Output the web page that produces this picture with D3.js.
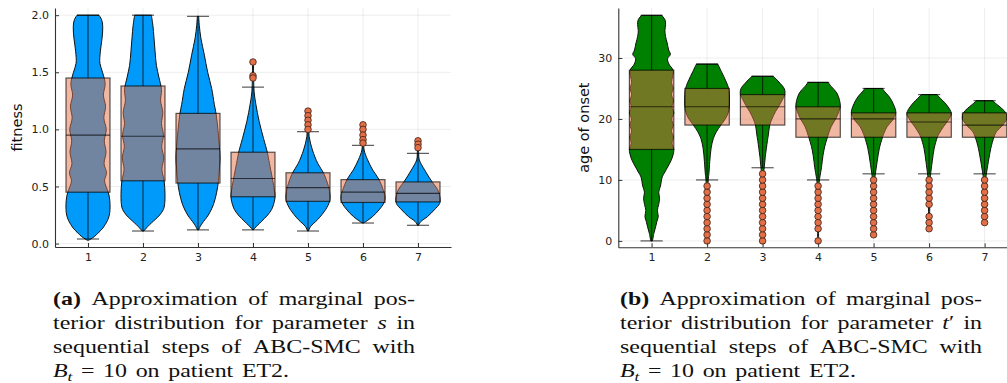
<!DOCTYPE html>
<html>
<head>
<meta charset="utf-8">
<script src="https://cdn.jsdelivr.net/npm/d3@7"></script>
<style>
  body { margin: 0; background: #fff; }
  svg { display: block; }
</style>
</head>
<body>
<svg id="fig" width="1007" height="383"></svg>
<script>
// ABC-SMC steps on the x axis of both panels
const steps = [1, 2, 3, 4, 5, 6, 7];
const stepTickLabels = ["1", "2", "3", "4", "5", "6", "7"];

// ---- parameter s (fitness) ----
const fitnessTicks = [0, 0.5, 1.0, 1.5, 2.0];
const fitnessTickLabels = ["0.0", "0.5", "1.0", "1.5", "2.0"];
const fitnessLower  = [0.04, 0.11, 0.12, 0.12, 0.11, 0.18, 0.16];
const fitnessQ1     = [0.45, 0.55, 0.53, 0.41, 0.37, 0.36, 0.365];
const fitnessMedian = [0.95, 0.94, 0.83, 0.57, 0.49, 0.45, 0.44];
const fitnessQ3     = [1.45, 1.38, 1.14, 0.80, 0.62, 0.56, 0.54];
const fitnessUpper  = [2.00, 2.00, 1.99, 1.37, 0.98, 0.86, 0.79];
const fitnessOutliers = [
  [], [], [],
  [1.59, 1.47, 1.45],
  [1.16, 1.12, 1.08, 1.04, 1.00],
  [1.04, 1.00, 0.95, 0.91, 0.88],
  [0.90, 0.87, 0.84]
];
// kernel density outline per step: [value, relative half-width]
const fitnessDensity = [
  [[0.03,0.04],[0.06,0.28],[0.1,0.5],[0.135,0.67],[0.2,0.88],[0.25,0.97],[0.3,1.0],[0.38,0.99],[0.45,0.92],
   [0.5,0.82],[0.55,0.75],[0.62,0.84],[0.7,0.73],[0.8,0.82],[0.9,0.74],[1.0,0.83],[1.1,0.72],[1.2,0.8],
   [1.3,0.7],[1.4,0.78],[1.5,0.66],[1.58,0.54],[1.68,0.56],[1.8,0.64],[1.9,0.67],[1.96,0.62],[2.0,0.5]],
  [[0.11,0.04],[0.15,0.22],[0.18,0.38],[0.25,0.76],[0.3,0.93],[0.34,0.98],[0.43,1.0],[0.55,0.96],[0.65,0.86],
   [0.75,0.94],[0.85,0.85],[0.95,0.93],[1.05,0.84],[1.15,0.9],[1.25,0.8],[1.35,0.84],[1.45,0.73],[1.56,0.61],
   [1.68,0.55],[1.8,0.5],[1.91,0.45],[2.0,0.38]],
  [[0.12,0.03],[0.15,0.1],[0.18,0.2],[0.25,0.47],[0.34,0.7],[0.45,0.85],[0.55,0.93],[0.65,0.97],[0.75,1.0],
   [0.85,0.97],[0.95,0.93],[1.05,0.88],[1.14,0.82],[1.22,0.74],[1.36,0.62],[1.5,0.44],[1.65,0.29],[1.8,0.13],
   [1.91,0.06],[1.99,0.03]],
  [[0.12,0.02],[0.135,0.08],[0.19,0.36],[0.25,0.67],[0.3,0.85],[0.34,0.93],[0.4,1.0],[0.47,0.97],[0.55,0.9],
   [0.65,0.8],[0.75,0.7],[0.8,0.65],[0.92,0.48],[1.07,0.28],[1.22,0.13],[1.33,0.05],[1.45,0.03],[1.59,0.02]],
  [[0.11,0.02],[0.15,0.12],[0.21,0.44],[0.3,0.81],[0.37,0.98],[0.42,1.0],[0.5,0.93],[0.62,0.7],[0.7,0.45],
   [0.82,0.2],[0.94,0.05],[1.05,0.03],[1.16,0.02]],
  [[0.18,0.02],[0.193,0.13],[0.236,0.43],[0.295,0.73],[0.36,0.96],[0.41,1.0],[0.48,0.9],[0.56,0.73],
   [0.645,0.44],[0.733,0.21],[0.82,0.05],[0.92,0.03],[1.04,0.02]],
  [[0.16,0.02],[0.193,0.13],[0.236,0.43],[0.295,0.74],[0.35,0.98],[0.4,1.0],[0.47,0.9],[0.54,0.64],
   [0.645,0.3],[0.733,0.06],[0.8,0.03],[0.9,0.02]]
];

// ---- parameter t' (age of onset) ----
const onsetTicks = [0, 10, 20, 30];
const onsetTickLabels = ["0", "10", "20", "30"];
const onsetLower  = [0, 10, 12, 10, 11, 11, 11];
const onsetQ1     = [15, 19, 19, 17, 17, 17, 17];
const onsetMedian = [22, 22, 22, 20, 20, 19.5, 19];
const onsetQ3     = [28, 25, 24, 22, 21, 21, 21];
const onsetUpper  = [37, 29, 27, 26, 25, 24, 23];
const onsetOutliers = [
  [],
  [0, 1, 2, 3, 4, 5, 6, 7, 8, 9],
  [0, 1, 2, 3, 4, 5, 6, 7, 8, 9, 10, 11],
  [0, 2, 3, 4, 5, 6, 7, 8, 9],
  [1, 2, 3, 4, 5, 6, 7, 8, 9, 10],
  [2, 3, 4, 6, 7, 8, 9, 10],
  [3, 4, 5, 6, 7, 8, 9, 10]
];
const onsetDensity = [
  [[0,0.04],[1.2,0.1],[2.3,0.18],[3.2,0.24],[4,0.3],[5,0.26],[6,0.32],[7,0.36],[8,0.32],[9,0.4],
   [10.5,0.48],[11.3,0.6],[12.1,0.72],[13.2,0.88],[14.3,0.98],[15,1.0],[16,0.92],[17,0.98],[18,0.9],
   [19,0.97],[20,0.91],[21,1.0],[22,0.92],[23,0.98],[24,0.9],[25,0.97],[26,0.9],[27,0.95],[28,0.97],
   [29,0.78],[29.9,0.72],[30.6,0.85],[31.3,0.77],[32.5,0.7],[33.5,0.63],[34.5,0.6],[35.5,0.63],[36.3,0.6],[37,0.45]],
  [[0,0.02],[5,0.03],[10,0.05],[11,0.08],[13,0.12],[15.2,0.18],[16.8,0.28],[17.9,0.42],[19,0.62],
   [20,0.82],[21,0.95],[22,1.0],[24,1.0],[25,0.97],[26.1,0.86],[27.8,0.64],[29,0.48]],
  [[0,0.02],[11,0.05],[12.3,0.08],[13.8,0.12],[15.2,0.17],[16.5,0.22],[17.4,0.26],[19,0.32],[20,0.42],
   [21.2,0.58],[22.2,0.75],[23.1,0.88],[24,1.0],[24.7,1.0],[25.2,0.94],[25.8,0.8],[26.4,0.65],[27,0.48]],
  [[0,0.02],[9,0.04],[10,0.06],[10.5,0.08],[12,0.15],[14,0.22],[15.5,0.3],[17,0.42],[18.7,0.58],
   [20.2,0.82],[21.2,0.93],[22,1.0],[23,0.97],[24.3,0.84],[25.3,0.6],[26,0.45]],
  [[1,0.02],[10,0.05],[11,0.08],[13,0.16],[15.2,0.26],[17,0.4],[17.6,0.46],[18.7,0.6],[19.8,0.85],
   [21,1.0],[21.7,0.97],[23.4,0.75],[24.7,0.45],[25,0.4]],
  [[2,0.02],[10,0.05],[11,0.07],[13,0.14],[15.2,0.23],[17,0.37],[17.6,0.45],[18.7,0.64],[19.8,0.86],
   [20.9,1.0],[22.3,0.79],[23.6,0.45],[24,0.35]],
  [[3,0.02],[10,0.05],[11,0.08],[13,0.17],[15.2,0.28],[17,0.42],[17.9,0.53],[19,0.82],[20.1,1.0],
   [21,0.95],[21.7,0.78],[22.8,0.42],[23,0.38]]
];

const BOX_COLOR = "#E26F46";
const svg = d3.select("#fig");

function drawPanel(opt) {
  const g = svg.append("g");
  const x = d3.scaleLinear().domain([0.4, 7.6]).range([opt.left, opt.right]);
  const y = d3.scaleLinear().domain(opt.yDomain).range([opt.bottom, opt.top]);
  const halfW = x(1.4) - x(1);
  const capW = x(1.2) - x(1);

  // grid
  const grid = g.append("g").attr("stroke", "#000").attr("stroke-opacity", 0.09).attr("stroke-width", 0.8);
  grid.selectAll("line.v").data(steps).join("line")
    .attr("x1", d => x(d)).attr("x2", d => x(d)).attr("y1", opt.top).attr("y2", opt.bottom);
  grid.selectAll("line.h").data(opt.ticks).join("line")
    .attr("x1", opt.left).attr("x2", opt.right).attr("y1", d => y(d)).attr("y2", d => y(d));

  // violins
  const area = d3.area()
    .y(p => y(p[0]))
    .curve(d3.curveCatmullRom.alpha(0.5));
  g.append("g").selectAll("path").data(steps).join("path")
    .attr("d", (s, i) => area
      .x0(p => x(s) - halfW * p[1])
      .x1(p => x(s) + halfW * p[1])(opt.density[i]))
    .attr("fill", opt.violinColor)
    .attr("stroke", "#111")
    .attr("stroke-width", 1);

  // boxes, whiskers, medians
  const boxLine = "rgba(0,0,0,0.65)";
  const boxes = g.append("g");
  steps.forEach((s, i) => {
    const cx = x(s);
    boxes.append("rect")
      .attr("x", cx - halfW).attr("width", 2 * halfW)
      .attr("y", y(opt.q3[i])).attr("height", y(opt.q1[i]) - y(opt.q3[i]))
      .attr("fill", BOX_COLOR).attr("fill-opacity", 0.5)
      .attr("stroke", boxLine).attr("stroke-width", 1.2);
    const segs = [
      [cx, y(opt.q3[i]), cx, y(opt.upper[i])],
      [cx, y(opt.q1[i]), cx, y(opt.lower[i])],
      [cx - capW, y(opt.upper[i]), cx + capW, y(opt.upper[i])],
      [cx - capW, y(opt.lower[i]), cx + capW, y(opt.lower[i])],
      [cx - halfW, y(opt.median[i]), cx + halfW, y(opt.median[i])]
    ];
    boxes.selectAll(null).data(segs).enter().append("line")
      .attr("x1", d => d[0]).attr("y1", d => d[1]).attr("x2", d => d[2]).attr("y2", d => d[3])
      .attr("stroke", boxLine).attr("stroke-width", 1.2);
  });

  // outliers
  const pts = [];
  steps.forEach((s, i) => opt.outliers[i].forEach(v => pts.push([s, v])));
  g.append("g").selectAll("circle").data(pts).join("circle")
    .attr("cx", d => x(d[0])).attr("cy", d => y(d[1])).attr("r", 3.3)
    .attr("fill", BOX_COLOR).attr("stroke", "#3b2118").attr("stroke-width", 0.8);

  // axes
  const ax = g.append("g").attr("transform", `translate(0,${opt.bottom})`)
    .call(d3.axisBottom(x).tickValues(steps).tickFormat((d, i) => stepTickLabels[i])
      .tickSize(-4).tickSizeOuter(0).tickPadding(6));
  const ay = g.append("g").attr("transform", `translate(${opt.left},0)`)
    .call(d3.axisLeft(y).tickValues(opt.ticks).tickFormat((d, i) => opt.tickLabels[i])
      .tickSize(-4).tickSizeOuter(0).tickPadding(6));
  [ax, ay].forEach(a => {
    a.selectAll("path.domain").attr("stroke", "#333").attr("stroke-width", 1.1);
    a.selectAll(".tick line").attr("stroke", "#333");
    a.selectAll("text").attr("font-family", "DejaVu Sans").attr("font-size", 11).attr("fill", "#222");
  });

  g.append("text")
    .attr("transform", `translate(${opt.labelX},${(opt.top + opt.bottom) / 2}) rotate(-90)`)
    .attr("text-anchor", "middle").attr("dy", "0.35em")
    .attr("font-family", "DejaVu Sans").attr("font-size", 14.5).attr("fill", "#111")
    .text(opt.label);
}

drawPanel({
  left: 55, right: 451, top: 8, bottom: 247,
  yDomain: [-0.03, 2.063], ticks: fitnessTicks, tickLabels: fitnessTickLabels,
  density: fitnessDensity, lower: fitnessLower, q1: fitnessQ1, median: fitnessMedian,
  q3: fitnessQ3, upper: fitnessUpper, outliers: fitnessOutliers,
  violinColor: "#009AFA", label: "fitness", labelX: 17
});

drawPanel({
  left: 618.3, right: 618.3 + 7.2 * 55.5, top: 8, bottom: 247.3,
  yDomain: [-1.05, 38.2], ticks: onsetTicks, tickLabels: onsetTickLabels,
  density: onsetDensity, lower: onsetLower, q1: onsetQ1, median: onsetMedian,
  q3: onsetQ3, upper: onsetUpper, outliers: onsetOutliers,
  violinColor: "#008000", label: "age of onset", labelX: 584
});

// ---- captions (justified serif text) ----
const captionA = [
  [[["(a)", "b"]], [["Approximation"]], [["of"]], [["marginal"]], [["pos-"]]],
  [[["terior"]], [["distribution"]], [["for"]], [["parameter"]], [["s", "i"]], [["in"]]],
  [[["sequential"]], [["steps"]], [["of"]], [["ABC-SMC"]], [["with"]]],
  [[["B", "i"], ["t", "sub"]], [["="]], [["10"]], [["on"]], [["patient"]], [["ET2."]]]
];
const captionB = [
  [[["(b)", "b"]], [["Approximation"]], [["of"]], [["marginal"]], [["pos-"]]],
  [[["terior"]], [["distribution"]], [["for"]], [["parameter"]], [["t", "i"], ["\u2032"]], [["in"]]],
  [[["sequential"]], [["steps"]], [["of"]], [["ABC-SMC"]], [["with"]]],
  [[["B", "i"], ["t", "sub"]], [["="]], [["10"]], [["on"]], [["patient"]], [["ET2."]]]
];

function drawCaption(lines, x0, width) {
  const sx = 1.33, fs = 18, baseline0 = 304.5, gap = 24.3;
  const g = svg.append("g").attr("font-family", "Liberation Serif").attr("font-size", fs).attr("fill", "#111");
  lines.forEach((words, li) => {
    const row = g.append("g").attr("transform", `translate(${x0},${baseline0 + li * gap}) scale(${sx},1)`);
    const nodes = words.map(w => {
      const t = row.append("text");
      w.forEach(([txt, st]) => {
        const ts = t.append("tspan").text(txt);
        if (st === "b") ts.attr("font-weight", "bold");
        if (st === "i") ts.attr("font-style", "italic");
        if (st === "sub") ts.attr("font-style", "italic").attr("font-size", fs * 0.72).attr("dy", 3.5);
      });
      return t;
    });
    const widths = nodes.map(n => n.node().getComputedTextLength());
    const total = d3.sum(widths);
    const justify = li < lines.length - 1;
    const space = justify ? (width / sx - total) / (nodes.length - 1) : fs * 0.36;
    let cx = 0;
    nodes.forEach((n, k) => { n.attr("x", cx); cx += widths[k] + space; });
  });
}
drawCaption(captionA, 53, 362);
drawCaption(captionB, 620, 362);
</script>
</body>
</html>
